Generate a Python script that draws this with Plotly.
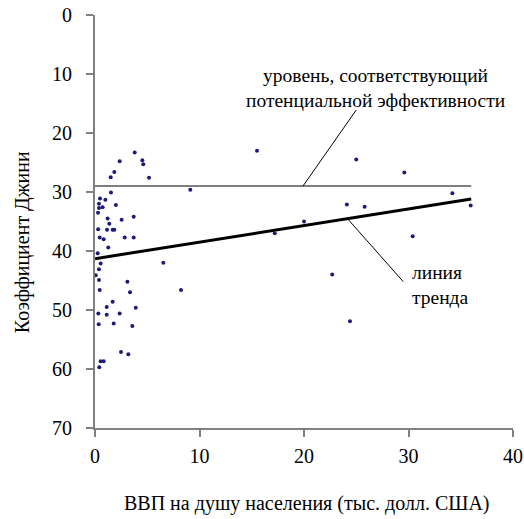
import plotly.graph_objects as go

# GDP per capita (thousand USD) and Gini coefficient
gdp = [3.8, 2.36, 1.85, 1.5, 1.53, 0.48, 0.99, 0.38, 0.73, 0.38, 2.0, 0.29, 1.21, 3.7, 2.55,
       1.37, 0.3, 1.15, 1.69, 1.85, 2.84, 3.7, 0.45, 0.83, 1.27, 0.26, 0.54, 0.38, 0.07, 0.38,
       3.1, 3.35, 0.45, 1.69, 1.12, 3.9, 2.36, 0.32, 1.12, 0.35, 1.79, 3.57, 2.49, 3.19, 0.54,
       0.83, 0.41, 4.53, 4.62, 5.17, 15.5, 9.12, 6.54, 8.23, 25.0, 29.6, 34.2, 35.95, 24.1,
       25.8, 20.0, 17.2, 30.4, 22.7, 24.4]
gini = [23.3, 24.8, 26.6, 27.5, 30.1, 31.1, 31.3, 32.0, 32.6, 32.7, 32.2, 33.5, 34.5, 34.2, 34.7,
        35.4, 36.3, 36.4, 36.4, 36.4, 37.7, 37.7, 37.7, 38.0, 39.4, 40.4, 42.1, 43.1, 44.1, 44.9,
        45.2, 47.0, 46.6, 48.6, 49.5, 49.6, 50.6, 50.6, 50.8, 52.4, 52.3, 52.7, 57.1, 57.5, 58.7,
        58.7, 59.7, 24.6, 25.3, 27.6, 23.0, 29.6, 42.0, 46.6, 24.5, 26.7, 30.2, 32.3, 32.1,
        32.5, 35.0, 37.0, 37.5, 44.0, 51.9]

level_x = [0, 36]
level_y = [29, 29]
trend_x = [0, 36]
trend_y = [41.3, 31.2]

x_ticks = [0, 10, 20, 30, 40]
y_ticks = [0, 10, 20, 30, 40, 50, 60, 70]

FONT = "Liberation Serif, Times New Roman, serif"
BIG = 20
ANN = 19.5

fig = go.Figure()
fig.add_trace(go.Scatter(x=level_x, y=level_y, mode="lines",
                         line=dict(color="#555555", width=1.5), showlegend=False))
fig.add_trace(go.Scatter(x=trend_x, y=trend_y, mode="lines",
                         line=dict(color="#000000", width=3), showlegend=False))
fig.add_trace(go.Scatter(x=gdp, y=gini, mode="markers",
                         marker=dict(color="#1c1c78", size=4), showlegend=False))

# leader lines
fig.add_shape(type="line", x0=19.9, y0=29, x1=25.0, y1=16.1,
              line=dict(color="#000000", width=1))
fig.add_shape(type="line", x0=24.15, y0=34.5, x1=29.5, y1=45.2,
              line=dict(color="#000000", width=1))

fig.add_annotation(x=26.8, y=12.45, text="уровень, соответствующий<br>потенциальной эффективности",
                   showarrow=False, font=dict(family=FONT, size=ANN, color="#000000"),
                   xanchor="center", yanchor="middle", align="center")
fig.add_annotation(x=30.1, y=45.8, text="линия<br>тренда",
                   showarrow=False, font=dict(family=FONT, size=ANN, color="#000000"),
                   xanchor="left", yanchor="middle", align="left")

# axis titles
fig.add_annotation(xref="paper", yref="paper", x=0.507, y=-0.183,
                   text="ВВП на душу населения (тыс. долл. США)", showarrow=False,
                   font=dict(family=FONT, size=BIG, color="#000000"),
                   xanchor="center", yanchor="middle")
fig.add_annotation(xref="paper", yref="paper", x=-0.1746, y=0.45,
                   text="Коэффициент Джини", showarrow=False, textangle=-90,
                   font=dict(family=FONT, size=BIG, color="#000000"),
                   xanchor="center", yanchor="middle")

axis_common = dict(showgrid=False, zeroline=False, showline=True, linecolor="#808080",
                   linewidth=2, ticks="outside", ticklen=7, tickwidth=1.5, tickcolor="#808080",
                   automargin=False,
                   tickfont=dict(family=FONT, size=BIG, color="#000000"))

fig.update_xaxes(range=[0, 40], tickvals=x_ticks, ticklabelstandoff=2, **axis_common)
fig.update_yaxes(range=[70, 0], tickvals=y_ticks, ticklabelstandoff=10, **axis_common)

fig.update_layout(width=524, height=519, margin=dict(l=95, r=11, t=15, b=91),
                  plot_bgcolor="white", paper_bgcolor="white", showlegend=False)

fig.write_html("out.html", config={"displayModeBar": False},
               post_script="document.body.style.margin='0px';")
